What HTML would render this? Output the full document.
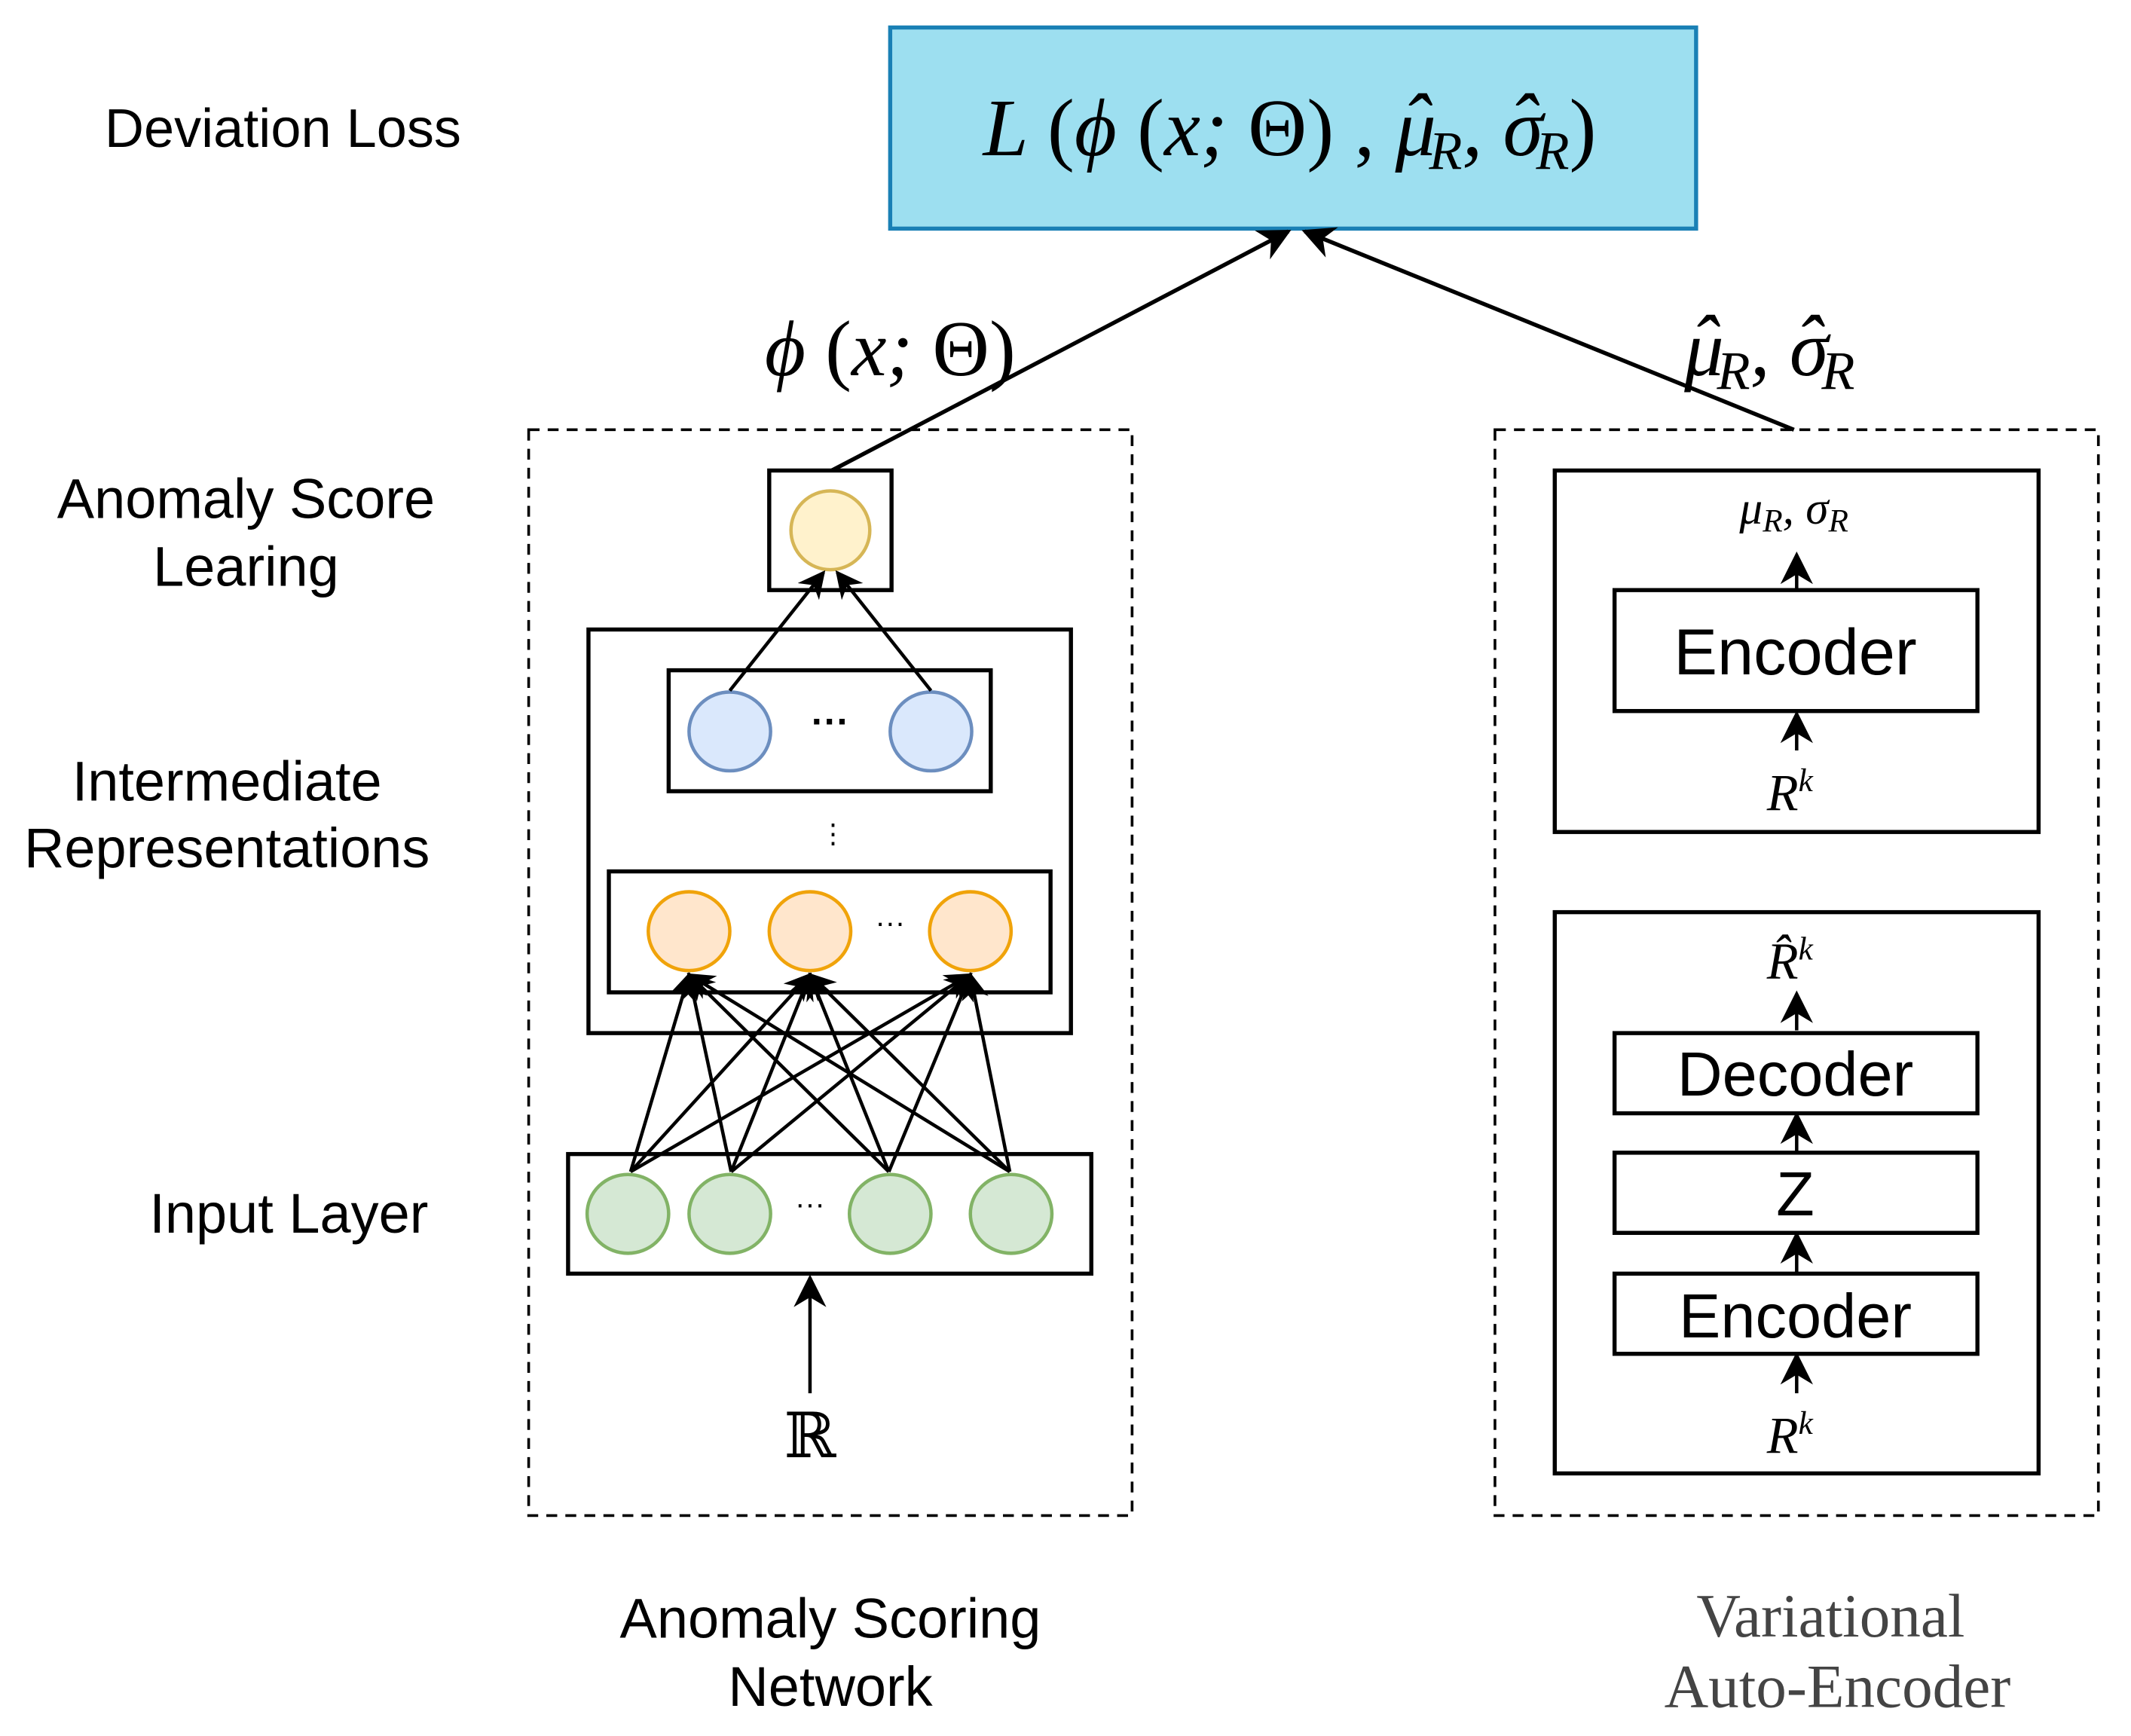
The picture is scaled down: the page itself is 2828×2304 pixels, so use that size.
<!DOCTYPE html>
<html><head><meta charset="utf-8"><style>
html,body{margin:0;padding:0;background:#fff;}
svg{display:block;}
.s{font-family:"Liberation Sans",sans-serif;fill:#000;}
.m{font-family:"Liberation Serif",serif;font-style:italic;fill:#000;}
.u{font-style:normal;}
</style></head><body>
<svg width="2828" height="2304" viewBox="0 0 1568 1277" xmlns="http://www.w3.org/2000/svg">
<defs>
<marker id="a" viewBox="0 0 10 10" refX="9" refY="5" markerWidth="20" markerHeight="20" markerUnits="userSpaceOnUse" orient="auto">
<path d="M0,0 L10,5 L0,10 L3,5 z" fill="#000"/></marker>
<marker id="b" viewBox="0 0 10 10" refX="9" refY="5" markerWidth="24" markerHeight="24" markerUnits="userSpaceOnUse" orient="auto">
<path d="M0,0 L10,5 L0,10 L3,5 z" fill="#000"/></marker>
</defs>
<rect width="1568" height="1277" fill="#fff"/>
<!-- top box -->
<rect x="655" y="20" width="593" height="148" fill="#9ddff0" stroke="#1a80b5" stroke-width="3"/>
<text x="949" y="114" text-anchor="middle" class="m" font-size="60">L <tspan class="u">(</tspan>ϕ <tspan class="u">(</tspan>x; <tspan class="u">Θ) ,</tspan> μ<tspan dx="-0.42em" dy="-4">ˆ</tspan><tspan font-size="40" dy="14">R</tspan><tspan dy="-10">, σ</tspan><tspan dx="-0.42em" dy="-4">ˆ</tspan><tspan font-size="40" dy="14">R</tspan><tspan class="u" dy="-10">)</tspan></text>
<text x="77" y="108" class="s" font-size="40">Deviation Loss</text>
<!-- main arrows -->
<line x1="612" y1="346" x2="948" y2="170" stroke="#000" stroke-width="3" marker-end="url(#b)"/>
<line x1="1320" y1="316" x2="960" y2="170" stroke="#000" stroke-width="3" marker-end="url(#b)"/>
<text x="655" y="276" text-anchor="middle" class="m" font-size="58">ϕ <tspan class="u">(</tspan>x; <tspan class="u">Θ)</tspan></text>
<text x="1302" y="276" text-anchor="middle" class="m" font-size="58">μ<tspan dx="-0.42em" dy="-4">ˆ</tspan><tspan font-size="40" dy="14">R</tspan><tspan dy="-10">, σ</tspan><tspan dx="-0.42em" dy="-4">ˆ</tspan><tspan font-size="40" dy="14">R</tspan></text>
<!-- dashed boxes -->
<rect x="389" y="316" width="444" height="799" fill="none" stroke="#000" stroke-width="2" stroke-dasharray="8,6"/>
<rect x="1100" y="316" width="444" height="799" fill="none" stroke="#000" stroke-width="2" stroke-dasharray="8,6"/>
<!-- left labels -->
<text x="181" y="381" text-anchor="middle" class="s" font-size="41">Anomaly Score</text>
<text x="181" y="431" text-anchor="middle" class="s" font-size="41">Learing</text>
<text x="167" y="589" text-anchor="middle" class="s" font-size="41">Intermediate</text>
<text x="167" y="638" text-anchor="middle" class="s" font-size="41">Representations</text>
<text x="110" y="907" class="s" font-size="41">Input Layer</text>
<!-- left network -->
<rect x="566" y="346" width="90" height="88" fill="none" stroke="#000" stroke-width="3"/>
<ellipse cx="611" cy="390" rx="29" ry="29" fill="#fff2cc" stroke="#d6b656" stroke-width="2.5"/>
<rect x="433" y="463" width="355" height="297" fill="none" stroke="#000" stroke-width="3"/>
<rect x="492" y="493" width="237" height="89" fill="none" stroke="#000" stroke-width="3"/>
<ellipse cx="537" cy="538" rx="30" ry="29" fill="#dae8fc" stroke="#6c8ebf" stroke-width="2.5"/>
<ellipse cx="685" cy="538" rx="30" ry="29" fill="#dae8fc" stroke="#6c8ebf" stroke-width="2.5"/>
<text x="611" y="540" text-anchor="middle" class="s" font-size="28" font-weight="bold">···</text>
<text x="613" y="620" text-anchor="middle" class="s" font-size="20" fill="#c33">⋮</text>
<rect x="448" y="641" width="325" height="89" fill="none" stroke="#000" stroke-width="3"/>
<ellipse cx="507" cy="685" rx="30" ry="29" fill="#ffe6cc" stroke="#f0a30a" stroke-width="2.5"/>
<ellipse cx="596" cy="685" rx="30" ry="29" fill="#ffe6cc" stroke="#f0a30a" stroke-width="2.5"/>
<ellipse cx="714" cy="685" rx="30" ry="29" fill="#ffe6cc" stroke="#f0a30a" stroke-width="2.5"/>
<text x="655" y="686" text-anchor="middle" class="s" font-size="22">···</text>
<line x1="537" y1="508" x2="606" y2="421" stroke="#000" stroke-width="2.5" marker-end="url(#a)"/>
<line x1="685" y1="508" x2="616" y2="421" stroke="#000" stroke-width="2.5" marker-end="url(#a)"/>
<rect x="418" y="849" width="385" height="88" fill="none" stroke="#000" stroke-width="3"/>
<g stroke="#000" stroke-width="2.5" marker-end="url(#a)">
<line x1="464" y1="862" x2="507" y2="717"/><line x1="464" y1="862" x2="596" y2="717"/><line x1="464" y1="862" x2="714" y2="717"/>
<line x1="538" y1="862" x2="507" y2="717"/><line x1="538" y1="862" x2="596" y2="717"/><line x1="538" y1="862" x2="714" y2="717"/>
<line x1="654" y1="862" x2="507" y2="717"/><line x1="654" y1="862" x2="596" y2="717"/><line x1="654" y1="862" x2="714" y2="717"/>
<line x1="743" y1="862" x2="507" y2="717"/><line x1="743" y1="862" x2="596" y2="717"/><line x1="743" y1="862" x2="714" y2="717"/>
</g>
<ellipse cx="462" cy="893" rx="30" ry="29" fill="#d5e8d4" stroke="#82b366" stroke-width="2.5"/>
<ellipse cx="537" cy="893" rx="30" ry="29" fill="#d5e8d4" stroke="#82b366" stroke-width="2.5"/>
<ellipse cx="655" cy="893" rx="30" ry="29" fill="#d5e8d4" stroke="#82b366" stroke-width="2.5"/>
<ellipse cx="744" cy="893" rx="30" ry="29" fill="#d5e8d4" stroke="#82b366" stroke-width="2.5"/>
<text x="596" y="893" text-anchor="middle" class="s" font-size="22">···</text>
<line x1="596" y1="1025" x2="596" y2="940" stroke="#000" stroke-width="2.5" marker-end="url(#b)"/>
<text x="596" y="1072" text-anchor="middle" font-family="DejaVu Serif,serif" font-size="46">ℝ</text>
<!-- right upper -->
<rect x="1144" y="346" width="356" height="266" fill="none" stroke="#000" stroke-width="3"/>
<text x="1320" y="385" text-anchor="middle" class="m" font-size="34">μ<tspan font-size="24" dy="6">R</tspan><tspan dy="-6">, σ</tspan><tspan font-size="24" dy="6">R</tspan></text>
<line x1="1322" y1="434" x2="1322" y2="408" stroke="#000" stroke-width="2.5" marker-end="url(#b)"/>
<rect x="1188" y="434" width="267" height="89" fill="none" stroke="#000" stroke-width="3"/>
<text x="1321" y="496" text-anchor="middle" class="s" font-size="48">Encoder</text>
<line x1="1322" y1="552" x2="1322" y2="525" stroke="#000" stroke-width="2.5" marker-end="url(#b)"/>
<text x="1317" y="596" text-anchor="middle" class="m" font-size="38">R<tspan font-size="24" dy="-14">k</tspan></text>
<!-- right lower -->
<rect x="1144" y="671" width="356" height="413" fill="none" stroke="#000" stroke-width="3"/>
<text x="1317" y="720" text-anchor="middle" class="m" font-size="38">R̂<tspan font-size="24" dy="-14">k</tspan></text>
<line x1="1322" y1="758" x2="1322" y2="731" stroke="#000" stroke-width="2.5" marker-end="url(#b)"/>
<rect x="1188" y="760" width="267" height="59" fill="none" stroke="#000" stroke-width="3"/>
<text x="1321" y="806" text-anchor="middle" class="s" font-size="46">Decoder</text>
<line x1="1322" y1="848" x2="1322" y2="820" stroke="#000" stroke-width="2.5" marker-end="url(#b)"/>
<rect x="1188" y="848" width="267" height="59" fill="none" stroke="#000" stroke-width="3"/>
<text x="1321" y="894" text-anchor="middle" class="s" font-size="46">Z</text>
<line x1="1322" y1="937" x2="1322" y2="908" stroke="#000" stroke-width="2.5" marker-end="url(#b)"/>
<rect x="1188" y="937" width="267" height="59" fill="none" stroke="#000" stroke-width="3"/>
<text x="1321" y="984" text-anchor="middle" class="s" font-size="46">Encoder</text>
<line x1="1322" y1="1025" x2="1322" y2="997" stroke="#000" stroke-width="2.5" marker-end="url(#b)"/>
<text x="1317" y="1069" text-anchor="middle" class="m" font-size="38">R<tspan font-size="24" dy="-14">k</tspan></text>
<!-- bottom labels -->
<text x="611" y="1205" text-anchor="middle" class="s" font-size="41">Anomaly Scoring</text>
<text x="611" y="1255" text-anchor="middle" class="s" font-size="41">Network</text>
<text x="1347" y="1204" text-anchor="middle" font-family="Liberation Serif,serif" font-size="45" fill="#444">Variational</text>
<text x="1352" y="1256" text-anchor="middle" font-family="Liberation Serif,serif" font-size="45" fill="#444">Auto-Encoder</text>
</svg>
</body></html>
